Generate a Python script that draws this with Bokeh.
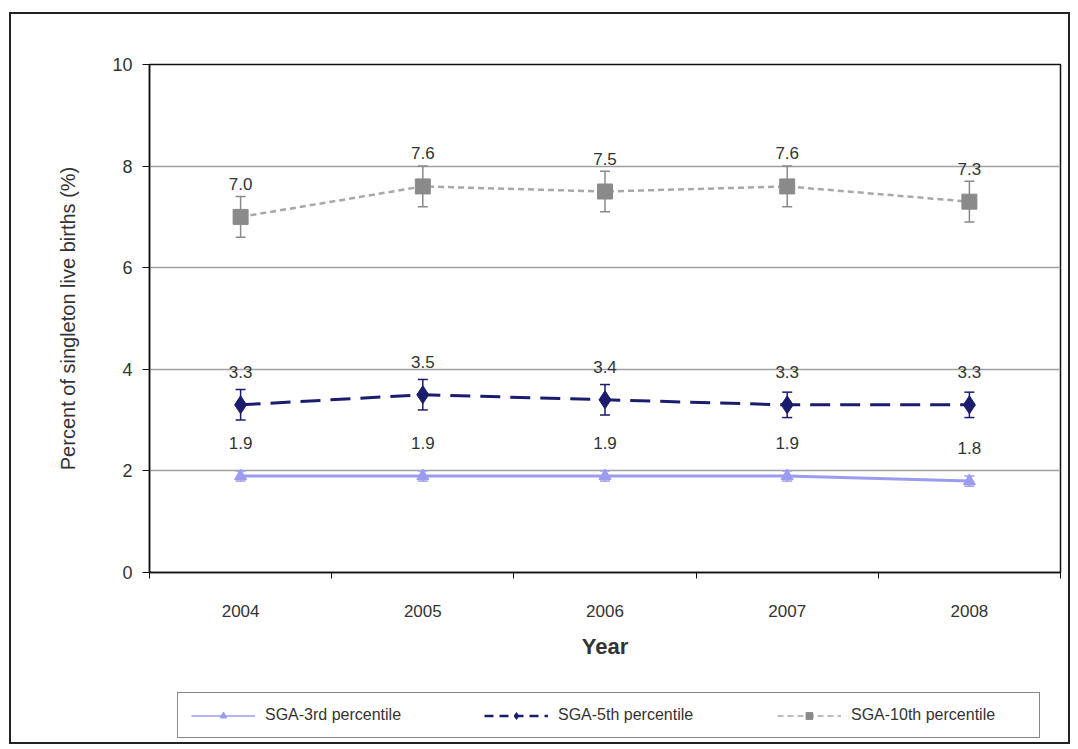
from bokeh.plotting import figure
from bokeh.models import (ColumnDataSource, Whisker, TeeHead, LabelSet, Legend,
                          FixedTicker, Range1d, Column)
from bokeh.core.properties import value
from bokeh.embed import file_html
from bokeh.resources import INLINE

years = ["2004", "2005", "2006", "2007", "2008"]
sga3 = [1.9, 1.9, 1.9, 1.9, 1.8]
sga3_err = [0.1, 0.1, 0.1, 0.1, 0.1]
sga5 = [3.3, 3.5, 3.4, 3.3, 3.3]
sga5_err = [0.3, 0.3, 0.3, 0.25, 0.25]
sga10 = [7.0, 7.6, 7.5, 7.6, 7.3]
sga10_err = [0.4, 0.4, 0.4, 0.4, 0.4]
y_ticks = [0, 2, 4, 6, 8, 10]

FONT = "Liberation Sans"
xs = [i + 0.5 for i in range(len(years))]

p = figure(frame_width=911, frame_height=508, output_backend="svg",
           toolbar_location=None,
           x_range=Range1d(0, len(years)), y_range=Range1d(0, 10),
           min_border_left=138, min_border_right=8, min_border_top=50,
           min_border_bottom=110)
p.outline_line_color = "#111111"
p.outline_line_width = 1.5

# axes
p.xaxis.ticker = FixedTicker(ticks=xs, minor_ticks=list(range(len(years) + 1)))
p.xaxis.major_label_overrides = {x: y for x, y in zip(xs, years)}
p.xaxis.major_tick_out = 0
p.xaxis.major_tick_in = 0
p.xaxis.minor_tick_out = 6
p.xaxis.minor_tick_in = 0
p.xaxis.minor_tick_line_color = "#111111"
p.xaxis.axis_line_color = "#111111"
p.xaxis.axis_line_width = 1.5
p.xaxis.major_label_standoff = 26
p.xaxis.major_label_text_font = FONT
p.xaxis.major_label_text_font_size = "17px"
p.xaxis.major_label_text_color = "#333333"
p.xaxis.axis_label = "Year"
p.xaxis.axis_label_text_font = FONT
p.xaxis.axis_label_text_font_size = "22px"
p.xaxis.axis_label_text_font_style = "bold"
p.xaxis.axis_label_text_color = "#333333"
p.xaxis.axis_label_standoff = 14

p.yaxis.ticker = FixedTicker(ticks=y_ticks)
p.yaxis.minor_tick_line_color = None
p.yaxis.major_tick_out = 7
p.yaxis.major_tick_in = 0
p.yaxis.major_tick_line_color = "#111111"
p.yaxis.axis_line_color = "#111111"
p.yaxis.axis_line_width = 1.5
p.yaxis.major_label_standoff = 10
p.yaxis.major_label_text_font = FONT
p.yaxis.major_label_text_font_size = "18px"
p.yaxis.major_label_text_color = "#333333"
p.yaxis.axis_label = "Percent of singleton live births (%)"
p.yaxis.axis_label_text_font = FONT
p.yaxis.axis_label_text_font_size = "20px"
p.yaxis.axis_label_text_font_style = "normal"
p.yaxis.axis_label_text_color = "#333333"
p.yaxis.axis_label_standoff = 30

p.xgrid.grid_line_color = None
p.ygrid.ticker = FixedTicker(ticks=y_ticks)
p.ygrid.grid_line_color = "#a0a0a0"
p.ygrid.grid_line_width = 1.5

series = [
    ("SGA-3rd percentile", sga3, sga3_err, "#9b9bef", "solid", "triangle", 12, 3),
    ("SGA-5th percentile", sga5, sga5_err, "#1c1c6e", "20 10", "diamond", 18, 3),
    ("SGA-10th percentile", sga10, sga10_err, "#8a8a8a", "6 4", "square", 15, 2.5),
]

# legend-only strip below the chart (its range hides the data marks)
leg_fig = figure(width=1057, height=60, output_backend="svg",
                 toolbar_location=None, x_axis_type=None, y_axis_type=None,
                 min_border=0, x_range=Range1d(0, len(years)),
                 y_range=Range1d(100, 101))
leg_fig.outline_line_color = None
leg_fig.xgrid.grid_line_color = None
leg_fig.ygrid.grid_line_color = None

items = []
for name, vals, errs, color, dash, marker, size, lw in series:
    src = ColumnDataSource(dict(
        x=xs, y=vals,
        lo=[v - e for v, e in zip(vals, errs)],
        hi=[v + e for v, e in zip(vals, errs)],
        lab=["%.1f" % v for v in vals],
    ))
    line_color = "#a8a8a8" if marker == "square" else color
    p.line("x", "y", source=src, line_color=line_color, line_width=lw,
           line_dash=dash)
    w = Whisker(base="x", lower="lo", upper="hi", source=src,
                line_color=color, line_width=1.5,
                upper_head=TeeHead(size=10, line_color=color, line_width=1.5),
                lower_head=TeeHead(size=10, line_color=color, line_width=1.5))
    p.add_layout(w)
    p.scatter("x", "y", source=src, marker=marker, size=size,
              fill_color=color, line_color=color)
    labels = LabelSet(x="x", y="y", text="lab", source=src, y_offset=33,
                      text_align="center", text_baseline="middle",
                      text_font=value(FONT), text_font_size="17px",
                      text_color="#333333")
    p.add_layout(labels)
    # legend proxies in the legend strip (outside its visible range)
    l1 = leg_fig.line("x", "y", source=src, line_color=line_color,
                      line_width=1.5 if marker != "diamond" else 2.5,
                      line_dash=dash if marker != "diamond" else "9 6")
    l2 = leg_fig.scatter("x", "y", source=src, marker=marker,
                         size=size * 0.55, fill_color=color, line_color=color)
    items.append((name, [l1, l2]))

legend = Legend(items=items, orientation="horizontal", location=(28, 4),
                border_line_color="#111111", border_line_width=1.5,
                padding=13, margin=0, spacing=44, glyph_width=64,
                glyph_height=17, label_standoff=10, label_width=175,
                label_text_font=FONT, label_text_font_size="16px",
                label_text_color="#333333", background_fill_alpha=1)
leg_fig.add_layout(legend, "center")

layout = Column(children=[p, leg_fig], spacing=0,
                styles={"border": "2px solid #222", "margin": "12px 0 0 9px"})

open("out.html", "w").write(file_html(layout, INLINE))
